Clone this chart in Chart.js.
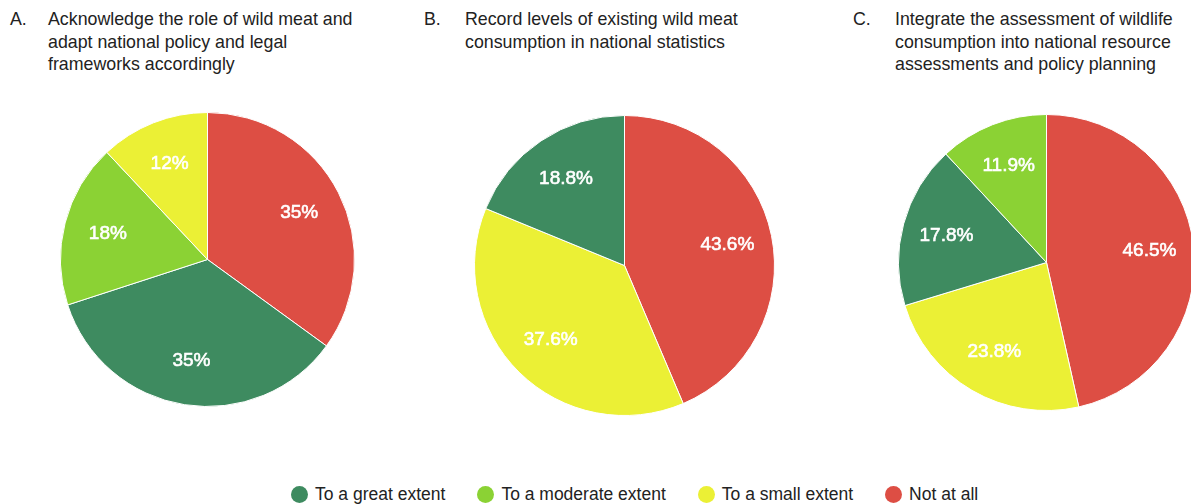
<!DOCTYPE html>
<html>
<head>
<meta charset="utf-8">
<script src="https://cdn.jsdelivr.net/npm/chart.js@4/dist/chart.umd.min.js"></script>
<style>
  html, body { margin: 0; padding: 0; background: #fff; }
  body { width: 1191px; height: 504px; overflow: hidden; position: relative;
         font-family: "Liberation Sans", Arial, sans-serif; color: #222; }
  .title { position: absolute; top: 8px; font-size: 17.8px; line-height: 22.5px; }
  .title .tag { position: absolute; left: 0; top: 0; }
  .title .txt { position: absolute; top: 0; white-space: nowrap; }
  .pie { position: absolute; }
  #legend { position: absolute; left: 291px; top: 484px; height: 20px;
            display: flex; font-size: 17.5px; line-height: 20px; }
  #legend .item { display: flex; align-items: center; margin-right: 32px; }
  #legend .dot { width: 17px; height: 17px; border-radius: 50%; margin-right: 7px; }
</style>
</head>
<body>

<div class="title" style="left:10px"><span class="tag">A.</span><span class="txt" style="left:38px">Acknowledge the role of wild meat and<br>adapt national policy and legal<br>frameworks accordingly</span></div>
<div class="title" style="left:424px"><span class="tag">B.</span><span class="txt" style="left:41px">Record levels of existing wild meat<br>consumption in national statistics</span></div>
<div class="title" style="left:853px"><span class="tag">C.</span><span class="txt" style="left:42px">Integrate the assessment of wildlife<br>consumption into national resource<br>assessments and policy planning</span></div>

<div class="pie" id="boxA"><canvas id="pieA"></canvas></div>
<div class="pie" id="boxB"><canvas id="pieB"></canvas></div>
<div class="pie" id="boxC"><canvas id="pieC"></canvas></div>

<div id="legend"></div>

<script>
// legend categories and colours
var categories = ['To a great extent', 'To a moderate extent', 'To a small extent', 'Not at all']
var cat_colors = ['#3e8b60', '#8bd234', '#ebf035', '#dd4e44']

// slices of each pie, clockwise from 12 o'clock (percent)
var a_labels = ['Not at all', 'To a great extent', 'To a moderate extent', 'To a small extent']
var a_values = [35, 35, 18, 12]

var b_labels = ['Not at all', 'To a small extent', 'To a great extent']
var b_values = [43.6, 37.6, 18.8]

var c_labels = ['Not at all', 'To a small extent', 'To a great extent', 'To a moderate extent']
var c_values = [46.5, 23.8, 17.8, 11.9]

function colorOf(label) {
    return cat_colors[categories.indexOf(label)]
}

// draws the % text inside each slice
var sliceLabels = {
    id: 'sliceLabels',
    afterDatasetsDraw(chart) {
        var ctx = chart.ctx
        var meta = chart.getDatasetMeta(0)
        var vals = chart.data.datasets[0].data
        var dec = chart.options.plugins.sliceLabels.decimals
        ctx.save()
        ctx.fillStyle = '#fff'
        ctx.strokeStyle = '#fff'
        ctx.lineWidth = 0.6
        ctx.font = '19px "Liberation Sans", Arial, sans-serif'
        ctx.textAlign = 'center'
        ctx.textBaseline = 'middle'
        meta.data.forEach(function (arc, i) {
            var p = arc.getProps(['x', 'y', 'startAngle', 'endAngle', 'outerRadius'], true)
            var mid = (p.startAngle + p.endAngle) / 2
            var d = p.outerRadius * 0.7
            var txt = vals[i].toFixed(dec) + '%'
            var tx = p.x + Math.cos(mid) * d
            var ty = p.y + Math.sin(mid) * d
            ctx.fillText(txt, tx, ty)
            ctx.strokeText(txt, tx, ty)
        })
        ctx.restore()
    }
}

function make_pie(id, box, labels, values, decimals, cx, cy, r) {
    var size = 2 * r + 1
    var el = document.getElementById(box)
    el.style.left = (cx - r) + 'px'
    el.style.top = (cy - r) + 'px'
    var canvas = document.getElementById(id)
    canvas.width = size
    canvas.height = size
    canvas.style.width = size + 'px'
    canvas.style.height = size + 'px'

    new Chart(canvas, {
        type: 'pie',
        data: {
            labels: labels,
            datasets: [{
                data: values,
                backgroundColor: labels.map(colorOf),
                borderColor: '#ffffff',
                borderWidth: 1
            }]
        },
        options: {
            responsive: false,
            animation: false,
            layout: { padding: 0 },
            plugins: {
                legend: { display: false },
                tooltip: { enabled: false },
                sliceLabels: { decimals: decimals }
            }
        },
        plugins: [sliceLabels]
    })
}

make_pie('pieA', 'boxA', a_labels, a_values, 0, 207, 259, 147)
make_pie('pieB', 'boxB', b_labels, b_values, 1, 624, 265, 150)
make_pie('pieC', 'boxC', c_labels, c_values, 1, 1046, 262, 148)

// shared legend under the pies
var legend = document.getElementById('legend')
for (let i = 0; i < categories.length; i++) {
    var item = document.createElement('div')
    item.className = 'item'
    item.innerHTML = '<span class="dot" style="background:' + cat_colors[i] + '"></span>' + categories[i]
    legend.appendChild(item)
}
</script>
</body>
</html>
